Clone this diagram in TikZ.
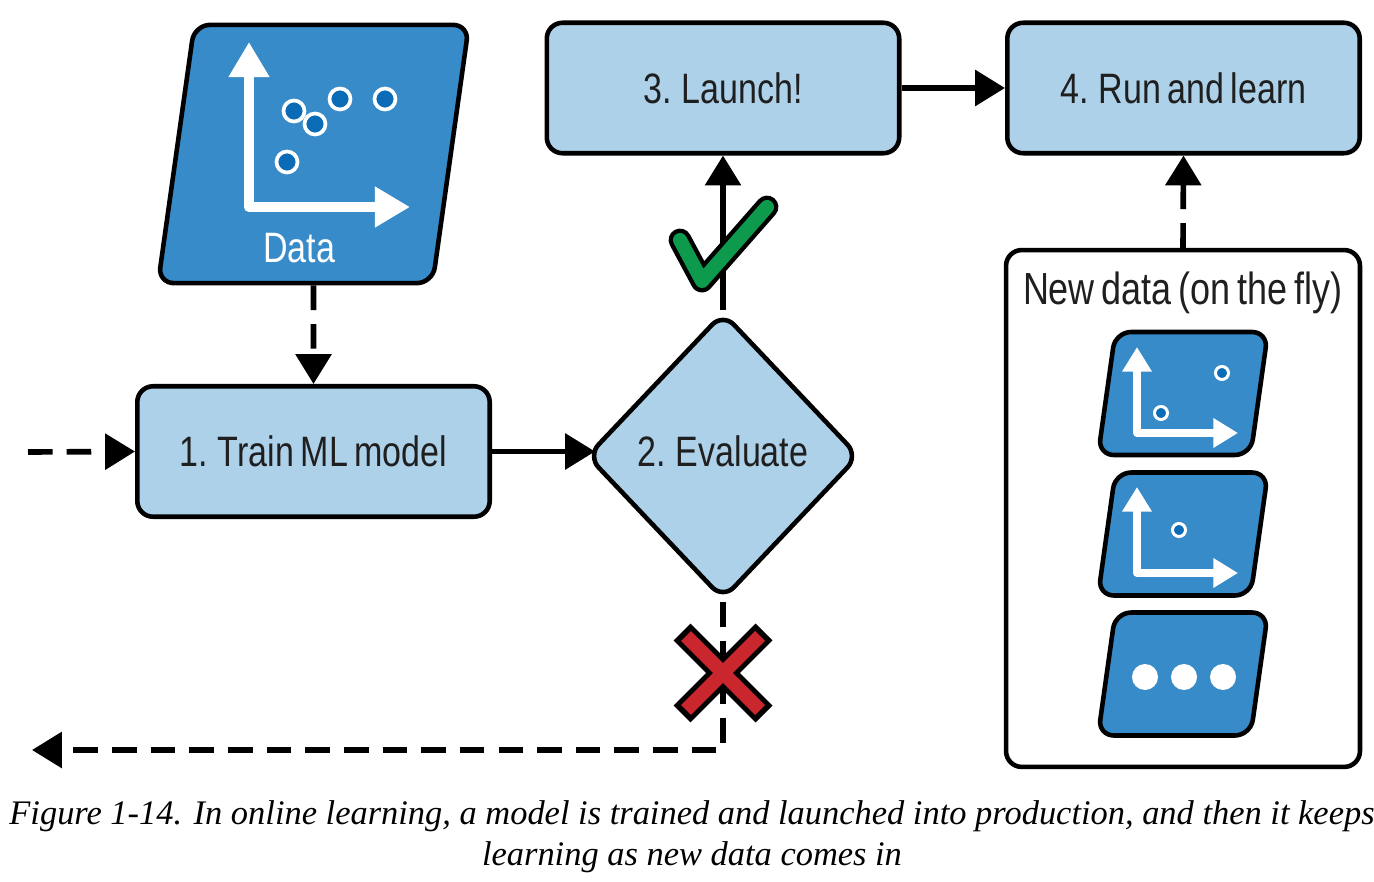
\documentclass[tikz,border=0pt]{standalone}
\usepackage{fontspec}
\setmainfont{Liberation Sans}[FakeStretch=0.8,WordSpace=0.7]
\newfontfamily\capfont{Liberation Serif}
\usepackage{tikz}
\usetikzlibrary{arrows.meta,shapes.geometric}
\definecolor{lightblue}{HTML}{AED1EA}
\definecolor{slabblue}{HTML}{378BC9}
\definecolor{dotblue}{HTML}{0B6BB6}
\definecolor{okgreen}{HTML}{0E9A4C}
\definecolor{badred}{HTML}{C9262E}
\begin{document}
\begin{tikzpicture}[x=0.02cm,y=-0.02cm,
    flow/.style={line width=3.2pt,-{Triangle[length=17pt,width=20pt]}},
    dashflow/.style={flow,dash pattern=on 14pt off 8pt},
    label/.style={text=black!88,font=\fontsize{24.2}{28}\selectfont},
    lightbox/.style={draw,line width=2.6pt,fill=lightblue,rounded corners=9pt,minimum width=7.05cm,minimum height=2.61cm,label},
    slab/.style={draw,line width=2.6pt,fill=slabblue,trapezium,trapezium left angle=82,trapezium right angle=98,inner sep=0pt,rounded corners=9pt},
    axes/.style={draw=white,line width=#1,line join=round}]
  \useasboundingbox (0,0) rectangle (1374,882);
  % upper row and the first step
  \node[lightbox] (train) at (313.5,451.5) {1. Train ML model};
  \node[lightbox] (launch) at (723,88) {3. Launch!};
  \node[lightbox] (learn) at (1183.5,88) {4. Run and learn};
  \node[draw,line width=2.6pt,fill=lightblue,diamond,rounded corners=9pt,inner sep=0pt,minimum width=5.45cm,minimum height=5.75cm] (evaluate) at (723,456) {};
  \node[label] (evaltext) at (723,451) {2. Evaluate};
  % data block
  \node[slab] (data) at (313.5,154) {\phantom{\rule{135.6pt}{147pt}}};
  \node[label,text=white] (datatext) at (299,248) {Data};
  \draw[axes=6pt,{Triangle[length=20pt,width=22pt]}-{Triangle[length=20pt,width=22pt]}] (249,42) -- (249,207) -- (410,207);
  \foreach \px/\py in {294/111,315/124,340/99,385/99,287/162}
    \draw[draw=white,fill=dotblue,line width=2.1pt] (\px,\py) circle (10.5);
  % new data panel
  \node[draw,line width=2.6pt,rounded corners=9pt,minimum width=7.08cm,minimum height=10.34cm] (panel) at (1183,508.5) {};
  \node[label,font=\fontsize{25.6}{28}\selectfont] (paneltext) at (1183,292.5) {New data (on the fly)};
  \node[slab] (slabA) at (1183,393.5) {\phantom{\rule{77pt}{70pt}}};
  \node[slab] (slabB) at (1183,534) {\phantom{\rule{77pt}{70pt}}};
  \node[slab] (slabC) at (1183,674) {\phantom{\rule{77pt}{70pt}}};
  \foreach \yo in {0,140}
    \draw[axes=4.5pt,{Triangle[length=14pt,width=16pt]}-{Triangle[length=14pt,width=16pt]}] (1137,347+\yo) -- (1137,433+\yo) -- (1238,433+\yo);
  \foreach \px/\py in {1222/373,1161/413,1179/530}
    \draw[draw=white,fill=dotblue,line width=1.7pt] (\px,\py) circle (6.5);
  \foreach \px in {1145,1184,1223}
    \fill[white] (\px,677) circle (13);
  % connectors
  \coordinate (start) at (28,452);
  \coordinate (reject) at (32,750);
  \draw[dashflow] (data.south) -- (train.north);
  \draw[dashflow] (start) -- (train.west);
  \draw[flow,shorten >=-6pt] (train.east) -- (train.east -| evaluate.west);
  \draw[flow] (evaluate.north) -- (launch.south);
  \draw[flow] (launch.east) -- (learn.west);
  \draw[dashflow] (panel.north) -- (learn.south);
  \draw[dashflow] (evaluate.south) |- (reject);
  % check and cross
  \draw[line width=13pt,line cap=round,line join=round] (680,240) -- (702,281) -- (767,207);
  \draw[okgreen,line width=8pt,line cap=round,line join=round] (680,240) -- (702,281) -- (767,207);
  \draw[line width=13.5pt] (682,632) -- (764,714) (764,632) -- (682,714);
  \draw[badred,line width=8pt] (686,636) -- (760,710) (760,636) -- (686,710);
  % caption
  \node[align=center,font=\capfont\itshape\fontsize{19.6}{23.3}\selectfont] (caption) at (692,837) {Figure 1-14. In online learning, a model is trained and launched into production, and then it keeps\\learning as new data comes in};
\end{tikzpicture}
\end{document}
